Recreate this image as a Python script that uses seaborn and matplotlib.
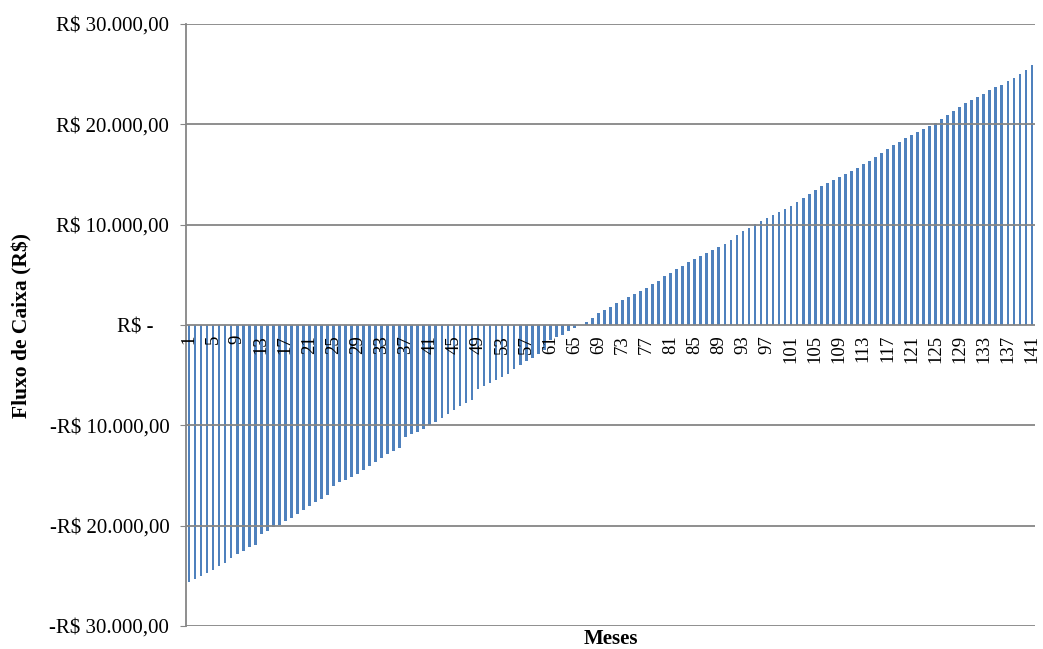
import numpy as np
import pandas as pd
import seaborn as sns
from matplotlib import pyplot as plt
from matplotlib.ticker import FuncFormatter

# Fluxo de caixa mensal (R$)
meses = list(range(1, 142))
fluxo = [
    -25570, -25270, -25000, -24700, -24400, -24030, -23670, -23240, -22870, -22540,
    -22170, -21880, -20810, -20510, -20180, -19910, -19580, -19250, -18850, -18440,
    -18080, -17680, -17320, -16960, -16020, -15690, -15420, -15120, -14820, -14450,
    -14090, -13650, -13290, -12890, -12590, -12290, -11200, -10900, -10630, -10330,
    -9960, -9630, -9260, -8860, -8460, -8100, -7770, -7430, -6340, -6070,
    -5770, -5510, -5170, -4840, -4410, -4010, -3610, -3240, -2880, -2510,
    -1450, -1150, -950, -640, -300, 20, 330, 730, 1170, 1500,
    1830, 2170, 2460, 2760, 3060, 3350, 3660, 4060, 4400, 4840,
    5200, 5570, 5920, 6240, 6560, 6890, 7140, 7460, 7780, 8110,
    8480, 8930, 9350, 9710, 10050, 10380, 10650, 10950, 11280, 11550,
    11850, 12280, 12650, 13080, 13470, 13840, 14170, 14470, 14770, 15070,
    15370, 15670, 16000, 16370, 16770, 17170, 17590, 17930, 18260, 18590,
    18890, 19230, 19490, 19790, 20160, 20530, 20890, 21330, 21690, 22130,
    22430, 22750, 23050, 23380, 23680, 23950, 24280, 24650, 25050, 25450,
    25920,
]
yticks = [-30000, -20000, -10000, 0, 10000, 20000, 30000]

df = pd.DataFrame({'Meses': meses, 'Fluxo': fluxo})

sns.set_style('white')
plt.rcParams['font.family'] = ['Liberation Serif', 'DejaVu Serif']

fig = plt.figure(figsize=(10.43, 6.49), dpi=100)
ax = fig.add_axes([0.1783, 0.0354, 0.814, 0.9276])

sns.barplot(data=df, x='Meses', y='Fluxo', color='#4F81BD', saturation=1,
            width=0.45, ax=ax, order=meses, linewidth=0, edgecolor='none')

ax.set_xlim(-0.5, len(meses) - 0.5)
ax.set_ylim(-30000, 30000)
ax.set_yticks(yticks)


def moeda(v, pos):
    if v == 0:
        return 'R$ -   '
    s = f'{abs(v):,.2f}'.replace(',', 'X').replace('.', ',').replace('X', '.')
    return ('-R$ ' if v < 0 else 'R$ ') + s


ax.yaxis.set_major_formatter(FuncFormatter(moeda))
ax.tick_params(axis='y', labelsize=15, length=4, color='#868686', labelcolor='black',
               direction='out', pad=8, left=True)

# Rotulos dos meses de 4 em 4, logo abaixo do zero
ax.set_xticks([])
for i in range(0, len(meses), 4):
    ax.text(i, -1000, str(meses[i]), rotation=90, ha='center', va='top',
            fontsize=13.5, color='black')

ax.yaxis.grid(True, color='#868686', lw=1.3)
ax.set_axisbelow(False)
for side in ['top', 'right', 'bottom']:
    ax.spines[side].set_visible(False)
ax.spines['left'].set_color('#868686')
ax.spines['left'].set_linewidth(1.3)

ax.set_xlabel('Meses', fontsize=15, fontweight='bold', labelpad=2, color='black')
ax.set_ylabel('Fluxo de Caixa (R$)', fontsize=15.5, fontweight='bold', labelpad=12, color='black')

fig.savefig('out.png', dpi=100)
